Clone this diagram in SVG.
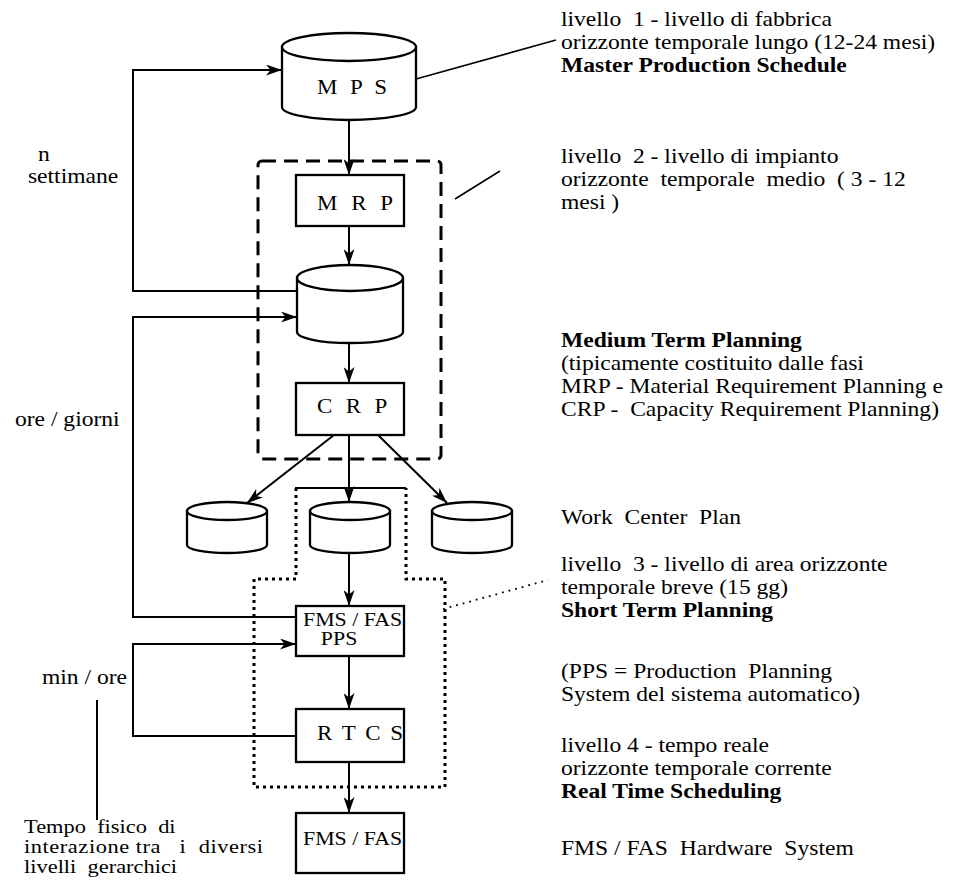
<svg xmlns="http://www.w3.org/2000/svg" width="953" height="882" viewBox="0 0 953 882">
<style>
  .shape { fill: #fff; stroke: #000; stroke-width: 2.3; }
  .conn { fill: none; stroke: #000; stroke-width: 2; }
  .thin { fill: none; stroke: #000; stroke-width: 1.6; }
  .dash { fill: none; stroke: #000; stroke-width: 3; stroke-dasharray: 14 8; }
  .dot { fill: none; stroke: #000; stroke-width: 3; stroke-dasharray: 3 4; }
  .dotthin { fill: none; stroke: #000; stroke-width: 1.8; stroke-dasharray: 1.8 5; }
  text { font-family: "Liberation Serif", "Times New Roman", serif; fill: #000; white-space: pre; }
  .t { font-size: 20.5px; }
  .s { font-size: 19.5px; }
  .b { font-size: 20.5px; font-weight: bold; }
  .lbl { font-size: 20px; }
  .fms { font-size: 19px; }
</style>
<defs>
  <marker id="arr" markerUnits="userSpaceOnUse" markerWidth="17" markerHeight="11" refX="16" refY="5.5" orient="auto">
    <path d="M0,0 L16,5.5 L0,11 L4.5,5.5 z" fill="#000"/>
  </marker>
</defs>

<!-- region outlines -->
<g id="medium-term-region">
  <rect class="dash" x="258" y="161" width="183" height="298" rx="4"/>
</g>
<g id="short-term-region">
  <path class="conn" d="M295,488 L406,488"/>
  <path class="dot" d="M296,488 L296,579 L254,579 L254,787 L445,787 L445,579 L406,579 L406,488"/>
</g>

<!-- connectors -->
<g id="connectors">
  <path class="conn" marker-end="url(#arr)" d="M349,120 L349,175"/>
  <path class="conn" marker-end="url(#arr)" d="M349,226 L349,265"/>
  <path class="conn" marker-end="url(#arr)" d="M349,343 L349,383"/>
  <path class="conn" marker-end="url(#arr)" d="M334,435 L247,503"/>
  <path class="conn" marker-end="url(#arr)" d="M349,435 L349,502"/>
  <path class="conn" marker-end="url(#arr)" d="M378,435 L447,503"/>
  <path class="conn" marker-end="url(#arr)" d="M349,553 L349,606"/>
  <path class="conn" marker-end="url(#arr)" d="M349,656 L349,709"/>
  <path class="conn" marker-end="url(#arr)" d="M349,762 L349,813"/>
  <path class="conn" marker-end="url(#arr)" d="M297,291 L133,291 L133,70 L282,70"/>
  <path class="conn" marker-end="url(#arr)" d="M296,617 L133,617 L133,317 L297,317"/>
  <path class="conn" marker-end="url(#arr)" d="M296,736 L133,736 L133,644 L296,644"/>
  <path class="thin" d="M416,79 L556,40"/>
  <path class="thin" d="M455,199 L500,171"/>
  <path class="dotthin" d="M443,609 L548,580"/>
  <path class="conn" d="M97,700 L97,820"/>
</g>

<!-- nodes -->
<g id="mps">
  <path class="shape" d="M282,47 L282,107 A67,13 0 0 0 416,107 L416,47 Z"/>
  <ellipse class="shape" cx="349" cy="47" rx="67" ry="14"/>
</g>
<g id="mrp">
  <rect class="shape" x="296" y="175" width="108" height="51"/>
</g>
<g id="db-mid">
  <path class="shape" d="M297,278 L297,332 A53,11 0 0 0 403,332 L403,278 Z"/>
  <ellipse class="shape" cx="350" cy="278" rx="53" ry="13"/>
</g>
<g id="crp">
  <rect class="shape" x="296" y="383" width="108" height="52"/>
</g>
<g id="wc-left">
  <path class="shape" d="M187,511 L187,545 A40,8 0 0 0 267,545 L267,511 Z"/>
  <ellipse class="shape" cx="227" cy="511" rx="40" ry="9"/>
</g>
<g id="wc-mid">
  <path class="shape" d="M310,511 L310,545 A40,8 0 0 0 390,545 L390,511 Z"/>
  <ellipse class="shape" cx="350" cy="511" rx="40" ry="9"/>
</g>
<g id="wc-right">
  <path class="shape" d="M432,511 L432,545 A40,8 0 0 0 512,545 L512,511 Z"/>
  <ellipse class="shape" cx="472" cy="511" rx="40" ry="9"/>
</g>
<g id="fms-pps">
  <rect class="shape" x="296" y="606" width="108" height="50"/>
</g>
<g id="rtcs">
  <rect class="shape" x="296" y="709" width="108" height="53"/>
</g>
<g id="fms-hw">
  <rect class="shape" x="296" y="813" width="108" height="60"/>
</g>

<!-- texts (horizontally stretched like the reference) -->
<g id="texts" transform="scale(1.15 1)">
  <text class="lbl" x="275.7" y="94" textLength="60.9" lengthAdjust="spacing">M P S</text>
  <text class="lbl" x="275.7" y="210" textLength="66" lengthAdjust="spacing">M R P</text>
  <text class="lbl" x="275.7" y="413" textLength="61" lengthAdjust="spacing">C R P</text>
  <text class="fms" x="263.5" y="626">FMS / FAS</text>
  <text class="fms" x="279" y="645">PPS</text>
  <text class="lbl" x="275.7" y="740" textLength="74.8" lengthAdjust="spacing">R T C S</text>
  <text class="fms" x="263.5" y="845">FMS / FAS</text>

  <text class="t" x="33" y="161">n</text>
  <text class="t" x="24.3" y="183">settimane</text>
  <text class="t" x="13" y="426">ore / giorni</text>
  <text class="t" x="36.5" y="684">min / ore</text>
  <text class="s" x="20.9" y="833">Tempo  fisico  di</text>
  <text class="s" x="20.9" y="853" textLength="207.8" lengthAdjust="spacing">interazione tra   i  diversi</text>
  <text class="s" x="20.9" y="873">livelli  gerarchici</text>

  <text class="t" x="487.8" y="26">livello  1 - livello di fabbrica</text>
  <text class="t" x="487.8" y="49">orizzonte temporale lungo (12-24 mesi)</text>
  <text class="b" x="487.8" y="72">Master Production Schedule</text>

  <text class="t" x="487.8" y="163">livello  2 - livello di impianto</text>
  <text class="t" x="487.8" y="186">orizzonte  temporale  medio  ( 3 - 12</text>
  <text class="t" x="487.8" y="209">mesi )</text>

  <text class="b" x="487.8" y="347">Medium Term Planning</text>
  <text class="t" x="487.8" y="370">(tipicamente costituito dalle fasi</text>
  <text class="t" x="487.8" y="393">MRP - Material Requirement Planning e</text>
  <text class="t" x="487.8" y="416">CRP -  Capacity Requirement Planning)</text>

  <text class="t" x="487.8" y="524">Work  Center  Plan</text>

  <text class="t" x="487.8" y="571">livello  3 - livello di area orizzonte</text>
  <text class="t" x="487.8" y="594">temporale breve (15 gg)</text>
  <text class="b" x="487.8" y="617">Short Term Planning</text>

  <text class="t" x="487.8" y="678">(PPS = Production  Planning</text>
  <text class="t" x="487.8" y="701">System del sistema automatico)</text>

  <text class="t" x="487.8" y="752">livello 4 - tempo reale</text>
  <text class="t" x="487.8" y="775">orizzonte temporale corrente</text>
  <text class="b" x="487.8" y="798">Real Time Scheduling</text>

  <text class="t" x="487.8" y="855">FMS / FAS  Hardware  System</text>
</g>
</svg>
